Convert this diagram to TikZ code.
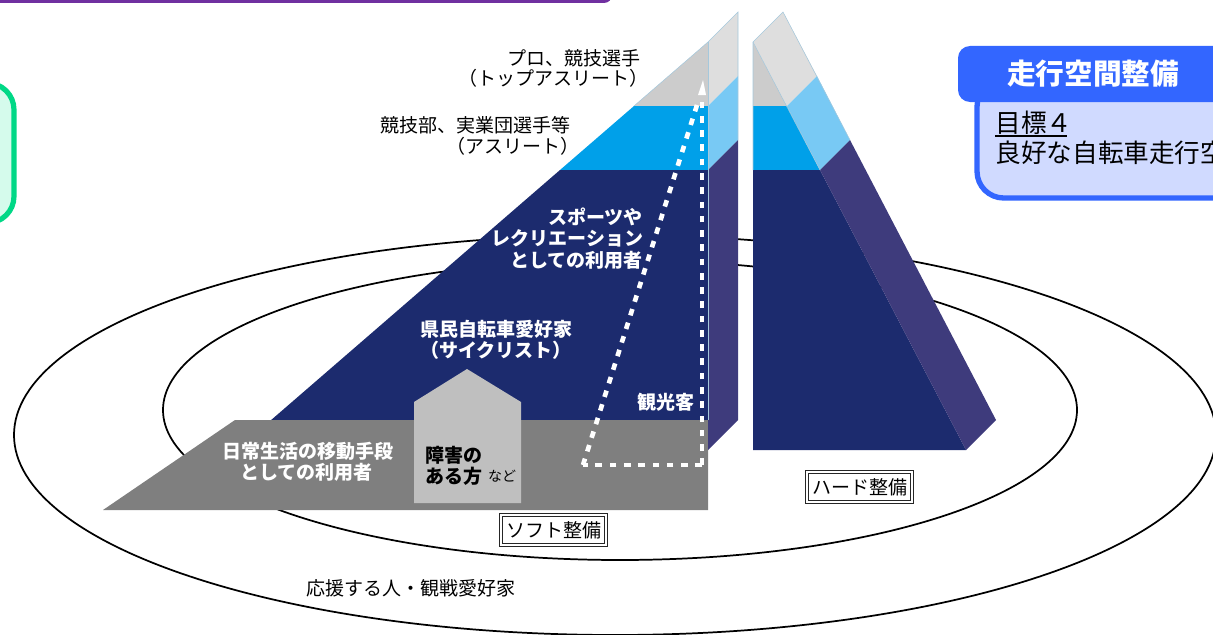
\documentclass[tikz,border=0pt]{standalone}
\usepackage{fontspec}
\setmainfont{Noto Sans CJK JP}
\begin{document}
\begin{tikzpicture}[x=0.75pt,y=-0.75pt,
  lab/.style={inner sep=0pt,text=black,font=\fontsize{14.25}{16}\selectfont},
  wlab/.style={inner sep=0pt,text=white,font=\fontsize{14.25}{16}\selectfont\bfseries},
  blab/.style={inner sep=0pt,text=black,font=\fontsize{14.25}{16}\selectfont\bfseries},
  orbit/.style={draw=black,line width=1.3pt},
  dbox/.style={draw=black!85,double=white,double distance=1.1pt,line width=0.75pt,fill=white,inner sep=0pt,minimum width=79pt,minimum height=22.5pt,font=\fontsize{14.25}{16}\selectfont},
  dashw/.style={draw=white,line width=3.5pt,dash pattern=on 5pt off 5.7pt},
  hair/.style={draw=edgeblue,line width=0.4pt}]
\definecolor{navy}{HTML}{1C2B6E}
\definecolor{navyside}{HTML}{3E3B7C}
\definecolor{bandblue}{HTML}{00A0E9}
\definecolor{lightblue}{HTML}{78C9F4}
\definecolor{topgrey}{HTML}{CCCCCC}
\definecolor{topside}{HTML}{DEDEDE}
\definecolor{basegrey}{HTML}{7F7F7F}
\definecolor{housegrey}{HTML}{BFBFBF}
\definecolor{hblue}{HTML}{3366FF}
\definecolor{hpale}{HTML}{D0DAFF}
\definecolor{gborder}{HTML}{00D886}
\definecolor{gpale}{HTML}{D5FBEC}
\definecolor{purplebar}{HTML}{7030A0}
\definecolor{edgeblue}{HTML}{A5C8DC}
\useasboundingbox (0,0) rectangle (1213,635);
\clip (0,0) rectangle (1213,635);
% frames at the edges
\fill[purplebar,rounded corners=6pt] (-30,-30) rectangle (612,3);
\draw[gborder,fill=gpale,line width=3.9pt,rounded corners=20pt] (-60,83) rectangle (14,223);
\draw[hblue,fill=hpale,line width=4pt,rounded corners=20pt] (977,80) rectangle (1290,198);
\fill[hblue,rounded corners=9pt] (958,46) rectangle (1290,102);
% orbits
\draw[orbit] (615,435) ellipse [x radius=601,y radius=200];
\draw[orbit] (620,410) ellipse [x radius=457,y radius=150];
% left pyramid, front
\fill[topgrey] (708,42) -- (634,106) -- (708,106) -- cycle;
\fill[bandblue] (634,106) -- (560,170) -- (708,170) -- (708,106) -- cycle;
\fill[navy] (560,170) -- (270,421) -- (708,421) -- (708,170) -- cycle;
\fill[basegrey] (235,420) -- (103,510) -- (708,510) -- (708,420) -- cycle;
% left pyramid, side
\fill[topside] (708,42) -- (738,12) -- (738,76) -- (708,106) -- cycle;
\fill[lightblue] (708,106) -- (738,76) -- (738,140) -- (708,170) -- cycle;
\fill[navyside] (708,170) -- (738,140) -- (738,420) -- (708,450) -- cycle;
\draw[hair] (634,106) -- (708,42) -- (738,12) -- (738,140);
\draw[hair] (708,42) -- (708,420);
% right pyramid, front
\fill[topgrey] (753,42) -- (787,106) -- (753,106) -- cycle;
\fill[bandblue] (753,106) -- (787,106) -- (820,170) -- (753,170) -- cycle;
\fill[navy] (753,170) -- (820,170) -- (966,450) -- (753,450) -- cycle;
% right pyramid, side
\fill[topside] (753,42) -- (783,12) -- (817,76) -- (787,106) -- cycle;
\fill[lightblue] (787,106) -- (817,76) -- (850,140) -- (820,170) -- cycle;
\fill[navyside] (820,170) -- (850,140) -- (996,420) -- (966,450) -- cycle;
\draw[hair] (753,170) -- (753,42) -- (783,12) -- (850,140);
\draw[hair] (753,42) -- (820,170);
% house
\fill[housegrey] (414,402) -- (467,369) -- (521,402) -- (521,503) -- (414,503) -- cycle;
% dashed triangle
\draw[dashw] (702,465) -- (583,465);
\draw[dashw] (702,465) -- (702,100);
\draw[dashw] (583,465) -- (697,105);
\fill[white] (703,80) -- (706,95) -- (698,95) -- cycle;
% labels above the pyramid
\node[lab] (pro1) at (574,58) {プロ、競技選手};
\node[lab] (pro2) at (553,78.5) {（トップアスリート）};
\node[lab] (ath1) at (475,125) {競技部、実業団選手等};
\node[lab] (ath2) at (513,146) {（アスリート）};
\node[wlab] (sp1) at (595.5,217) {スポーツや};
\node[wlab] (sp2) at (567.5,238) {レクリエーション};
\node[wlab] (sp3) at (576.5,260) {としての利用者};
\node[wlab] (cy1) at (496.5,329) {県民自転車愛好家};
\node[wlab] (cy2) at (496,350) {（サイクリスト）};
\node[wlab] (tour) at (666,402) {観光客};
\node[wlab] (daily1) at (307.5,451) {日常生活の移動手段};
\node[wlab] (daily2) at (306.5,472) {としての利用者};
\node[blab] (sh1) at (454,455) {障害の};
\node[blab] (sh2) at (454,476) {ある方};
\node[lab,font=\fontsize{10.5}{12}\selectfont] (sh3) at (502,476) {など};
\node[dbox] (soft) at (553.5,530) {ソフト整備};
\node[dbox] (hard) at (859.5,487) {ハード整備};
\node[lab] (fan) at (410.5,588) {応援する人・観戦愛好家};
% top right panel
\node[inner sep=0pt,text=white,font=\fontsize{21.5}{24}\selectfont\bfseries] (ttl) at (1093,74) {走行空間整備};
\node[lab,anchor=west,font=\fontsize{19.2}{22}\selectfont] (g1) at (995.5,123) {目標４};
\draw[black,line width=1.2pt] (995,136) -- (1067,136);
\node[lab,anchor=west,font=\fontsize{19.2}{22}\selectfont] (g2) at (995.5,153) {良好な自転車走行空};
\end{tikzpicture}
\end{document}
